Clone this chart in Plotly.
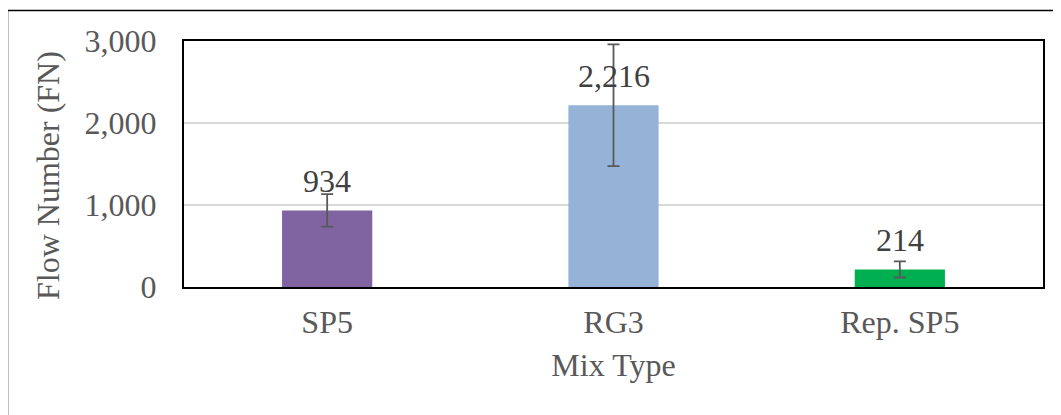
import plotly.graph_objects as go

categories = ["SP5", "RG3", "Rep. SP5"]
values = [934, 2216, 214]
errors = [198, 742, 98]
colors = ["#8064A2", "#95B3D7", "#00B050"]
y_ticks = [0, 1000, 2000, 3000]

# page body has an 8px default margin; compensate so plot lands where the reference has it
OFF = 8
W, H = 1061, 415
L, R, T, B = 184 - OFF, 1043 - OFF, 41 - OFF, 287 - OFF
pw, ph = R - L, B - T

fig = go.Figure()
fig.add_trace(go.Bar(
    x=categories, y=values,
    marker=dict(color=colors, line=dict(width=0)),
    error_y=dict(type="data", array=errors, visible=True, color="#595959", thickness=1.8, width=6),
    hoverinfo="skip",
))

for c, v in zip(categories, values):
    fig.add_annotation(x=c, y=v, text=f"{v:,}", showarrow=False, yanchor="bottom",
                       yshift=9, font=dict(family="Liberation Serif", size=32, color="#404040"))

# y-axis title placed as a rotated annotation
fig.add_annotation(xref="paper", yref="paper", x=(48 - OFF - L) / pw, y=(B - (176 - OFF)) / ph,
                   text="Flow Number (FN)", textangle=-90, showarrow=False,
                   xanchor="center", yanchor="middle",
                   font=dict(family="Liberation Serif", size=32, color="#595959"))

fig.add_shape(type="rect", xref="paper", yref="paper",
              x0=(7.5 - OFF - L) / pw, x1=(1080 - L) / pw,
              y0=(B - 440) / ph, y1=(B - (10.5 - OFF)) / ph,
              line=dict(color="black", width=1.5), fillcolor="rgba(0,0,0,0)", layer="below")

fig.update_layout(
    width=W, height=H,
    margin=dict(l=L, r=W - R, t=T, b=H - B, pad=0),
    paper_bgcolor="white", plot_bgcolor="white",
    showlegend=False,
    bargap=0.685,
    font=dict(family="Liberation Serif", size=32, color="#595959"),
    xaxis=dict(showline=True, linecolor="black", linewidth=2, mirror=True,
               ticks="", ticklabelstandoff=6,
               title=dict(text="Mix Type", standoff=14, font=dict(size=32, color="#595959")),
               tickfont=dict(size=32, color="#595959")),
    yaxis=dict(range=[0, 3000], tickvals=y_ticks, tickformat=",",
               showline=True, linecolor="black", linewidth=2, mirror=True,
               showgrid=True, gridcolor="#D9D9D9", gridwidth=1.5,
               zeroline=False, ticks="", ticklabelstandoff=19,
               tickfont=dict(size=32, color="#595959"), automargin=False),
)

fig.write_html("out.html")
